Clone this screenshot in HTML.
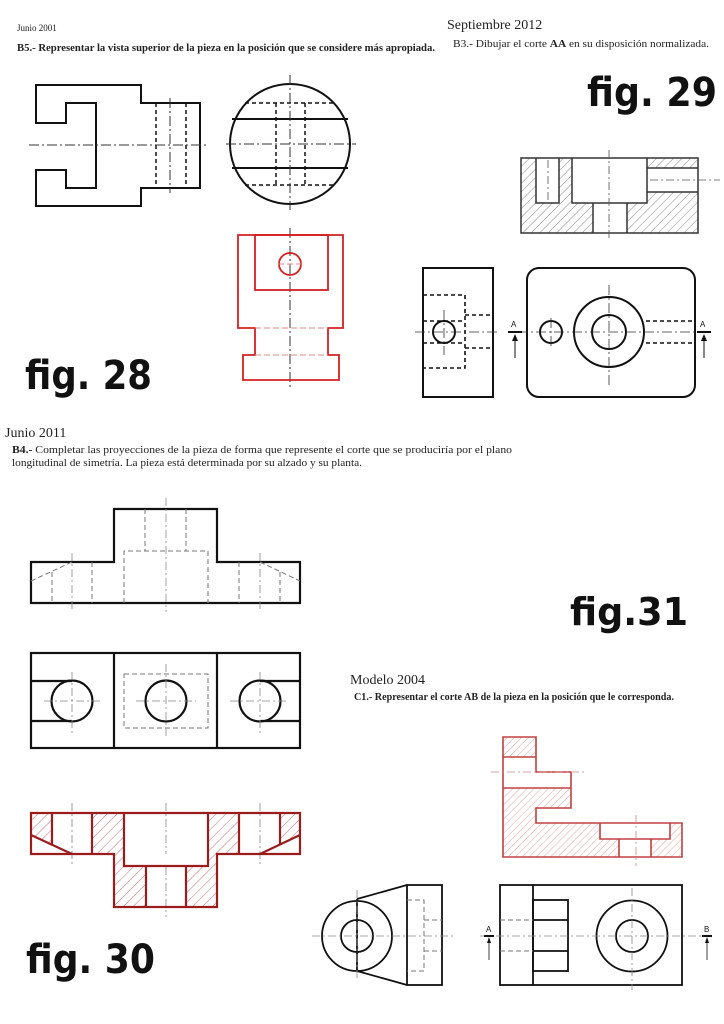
<!DOCTYPE html>
<html><head><meta charset="utf-8"><style>
html,body{margin:0;padding:0;background:#fff;}
svg{display:block;}
.t{font-family:"Liberation Serif",serif;fill:#222;}
.f{font-family:"DejaVu Sans","Liberation Sans",sans-serif;font-weight:bold;fill:#111;}
</style></head><body>
<svg width="724" height="1024" viewBox="0 0 724 1024" xmlns="http://www.w3.org/2000/svg">
<defs>
<pattern id="hg" width="6" height="6" patternUnits="userSpaceOnUse" patternTransform="rotate(45)">
<line x1="0" y1="0" x2="0" y2="6" stroke="#555" stroke-width="0.7"/></pattern>
<pattern id="hr" width="7" height="7" patternUnits="userSpaceOnUse" patternTransform="rotate(45)">
<line x1="0" y1="0" x2="0" y2="7" stroke="#a33" stroke-width="0.7"/></pattern>
<pattern id="hr2" width="5" height="5" patternUnits="userSpaceOnUse" patternTransform="rotate(45)">
<line x1="0" y1="0" x2="0" y2="5" stroke="#c66" stroke-width="0.6"/></pattern>
</defs>
<rect width="724" height="1024" fill="#fff"/>

<!-- texts -->
<text class="t" x="17" y="31" font-size="9">Junio 2001</text>
<text class="t" x="17" y="51" font-size="11" font-weight="bold" textLength="418" lengthAdjust="spacingAndGlyphs">B5.- Representar la vista superior de la pieza en la posición que se considere más apropiada.</text>
<text class="t" x="447" y="29" font-size="14">Septiembre 2012</text>
<text class="t" x="453" y="47" font-size="11" textLength="256" lengthAdjust="spacingAndGlyphs"><tspan>B3.- Dibujar el corte </tspan><tspan font-weight="bold">AA</tspan><tspan> en su disposición normalizada.</tspan></text>
<text class="f" x="587" y="106" font-size="40" textLength="130" lengthAdjust="spacingAndGlyphs">fig. 29</text>
<text class="f" x="25" y="389" font-size="40" textLength="127" lengthAdjust="spacingAndGlyphs">fig. 28</text>
<text class="t" x="5" y="437" font-size="14">Junio 2011</text>
<text class="t" x="12" y="453" font-size="11" textLength="500" lengthAdjust="spacingAndGlyphs"><tspan font-weight="bold">B4.-</tspan> Completar las proyecciones de la pieza de forma que represente el corte que se produciría por el plano</text>
<text class="t" x="12" y="466" font-size="11" textLength="350" lengthAdjust="spacingAndGlyphs">longitudinal de simetría. La pieza está determinada por su alzado y su planta.</text>
<text class="f" x="570" y="625" font-size="38" textLength="118" lengthAdjust="spacingAndGlyphs">fig.31</text>
<text class="t" x="350" y="684" font-size="14">Modelo 2004</text>
<text class="t" x="354" y="700" font-size="11" font-weight="bold" textLength="320" lengthAdjust="spacingAndGlyphs">C1.- Representar el corte AB de la pieza en la posición que le corresponda.</text>
<text class="f" x="26" y="973" font-size="40" textLength="129" lengthAdjust="spacingAndGlyphs">fig. 30</text>

<!-- FIG 28 -->
<g fill="none" stroke="#111" stroke-width="2">
<path d="M36,85 H141 V103 H200 V188 H141 V206 H36 V170 H66 V188 H96 V103 H66 V123 H36 Z"/>
<circle cx="290" cy="144" r="60"/>
<line x1="232" y1="119" x2="348" y2="119"/>
<line x1="232" y1="168" x2="348" y2="168"/>
</g>
<g fill="none" stroke="#111" stroke-width="1.5" stroke-dasharray="4,3">
<line x1="156" y1="103" x2="156" y2="188"/><line x1="186" y1="103" x2="186" y2="188"/>
<line x1="245" y1="103" x2="335" y2="103"/><line x1="245" y1="185" x2="335" y2="185"/>
<line x1="276" y1="103" x2="276" y2="185"/><line x1="305" y1="103" x2="305" y2="185"/>
</g>
<g fill="none" stroke="#333" stroke-width="1" stroke-dasharray="10,3,2,3">
<line x1="29" y1="145" x2="207" y2="145"/><line x1="170" y1="98" x2="170" y2="193"/>
<line x1="226" y1="144" x2="356" y2="144"/><line x1="290" y1="75" x2="290" y2="210"/>
<line x1="290" y1="228" x2="290" y2="388"/>
</g>
<g fill="none" stroke="#d42020" stroke-width="1.8">
<path d="M238,235 H343 V328 H328 V355 H339 V380 H243 V355 H255 V328 H238 Z"/>
<rect x="255" y="235" width="73" height="55"/>
<circle cx="290" cy="264" r="11"/>
</g>
<g stroke="#d88" stroke-width="1" stroke-dasharray="6,3"><line x1="255" y1="328" x2="328" y2="328"/><line x1="255" y1="355" x2="328" y2="355"/><line x1="278" y1="264" x2="302" y2="264"/></g>

<!-- FIG 29 section -->
<rect x="521" y="158" width="177" height="75" fill="url(#hg)"/>
<g fill="#fff"><rect x="536" y="158" width="23" height="45"/><rect x="572" y="158" width="75" height="45"/><rect x="647" y="168" width="51" height="24"/><rect x="593" y="203" width="34" height="30"/></g>
<g fill="none" stroke="#333" stroke-width="1.5">
<rect x="521" y="158" width="177" height="75"/>
<path d="M536,158 V203 H559 V158"/><path d="M572,158 V203 H647 V158"/>
<path d="M647,168 H698 M647,192 H698"/><path d="M593,203 V233 M627,203 V233"/>
</g>
<g stroke="#555" stroke-width="0.8" stroke-dasharray="8,3,2,3"><line x1="609" y1="150" x2="609" y2="240"/><line x1="548" y1="160" x2="548" y2="200"/><line x1="650" y1="180" x2="720" y2="180"/></g>

<g fill="none" stroke="#111" stroke-width="2">
<rect x="423" y="268" width="70" height="129"/>
<circle cx="444" cy="332" r="11"/>
<rect x="527" y="268" width="168" height="129" rx="12"/>
<circle cx="551" cy="332" r="11"/>
<circle cx="609" cy="332" r="35"/>
<circle cx="609" cy="332" r="17"/>
</g>
<g fill="none" stroke="#111" stroke-width="1.6" stroke-dasharray="4,3">
<path d="M423,295 H465 V368 H423"/><path d="M465,315 H493 M465,348 H493"/>
<path d="M423,321 H465 M423,343 H465"/>
<path d="M646,321 H695 M646,343 H695"/>
</g>
<g stroke="#333" stroke-width="0.8" stroke-dasharray="10,3,2,3"><line x1="415" y1="332" x2="500" y2="332"/><line x1="444" y1="310" x2="444" y2="355"/><line x1="518" y1="332" x2="708" y2="332"/><line x1="609" y1="285" x2="609" y2="385"/><line x1="551" y1="318" x2="551" y2="346"/></g>
<g stroke="#111" stroke-width="2"><line x1="508" y1="332" x2="522" y2="332"/><line x1="697" y1="332" x2="711" y2="332"/></g>
<g stroke="#111" stroke-width="1"><line x1="515" y1="335" x2="515" y2="358"/><line x1="704" y1="335" x2="704" y2="358"/></g>
<path d="M515,334 l-3,7 h6 z M704,334 l-3,7 h6 z" fill="#111"/>
<text x="511" y="327" font-family="Liberation Sans,sans-serif" font-size="8" fill="#111">A</text>
<text x="700" y="327" font-family="Liberation Sans,sans-serif" font-size="8" fill="#111">A</text>

<!-- FIG 31 elevation -->
<g fill="none" stroke="#111" stroke-width="2.2">
<path d="M31,562 H114 V509 H217 V562 H300 V603 H31 Z"/>
<rect x="31" y="653" width="269" height="95"/>
<line x1="114" y1="653" x2="114" y2="748"/><line x1="217" y1="653" x2="217" y2="748"/>
<circle cx="72" cy="701" r="20.5"/><circle cx="166" cy="701" r="20.5"/><circle cx="260" cy="701" r="20.5"/>
<path d="M31,681 H72 M31,721 H72 M260,681 H300 M260,721 H300"/>
</g>
<g fill="none" stroke="#777" stroke-width="1" stroke-dasharray="5,3">
<path d="M145,509 V551 M186,509 V551 M124,603 V551 H208 V603"/>
<path d="M52,572 V603 M92,562 V603 M239,562 V603 M280,572 V603"/>
<path d="M31,581 L72,562 M260,562 L300,581"/>
<rect x="124" y="674" width="84" height="54"/>
</g>
<g stroke="#888" stroke-width="0.8" stroke-dasharray="8,3,2,3">
<line x1="72" y1="553" x2="72" y2="612"/><line x1="166" y1="498" x2="166" y2="612"/><line x1="260" y1="553" x2="260" y2="612"/>
<line x1="72" y1="672" x2="72" y2="736"/><line x1="166" y1="664" x2="166" y2="738"/><line x1="260" y1="672" x2="260" y2="736"/>
<line x1="44" y1="701" x2="101" y2="701"/><line x1="136" y1="701" x2="196" y2="701"/><line x1="230" y1="701" x2="288" y2="701"/>
<line x1="72" y1="803" x2="72" y2="864"/><line x1="166" y1="803" x2="166" y2="917"/><line x1="260" y1="803" x2="260" y2="864"/>
</g>

<!-- FIG 30 red section -->
<g fill="url(#hr)">
<polygon points="31,813 52,813 52,845 31,835"/>
<rect x="92" y="813" width="32" height="41"/>
<rect x="208" y="813" width="31" height="41"/>
<polygon points="280,813 300,813 300,835 280,845"/>
<rect x="114" y="854" width="32" height="53"/>
<rect x="186" y="854" width="31" height="53"/>
</g>
<rect x="124" y="854" width="84" height="12" fill="#fff"/>
<g fill="none" stroke="#9b1c1c" stroke-width="2.2">
<path d="M31,813 H300 V854 H217 V907 H114 V854 H31 Z"/>
<path d="M52,813 V845 M92,813 V854 M124,813 V866 H208 V813 M239,813 V854 M280,813 V845"/>
<path d="M146,866 V907 M186,866 V907"/>
<path d="M31,835 L72,854 M300,835 L260,854"/>
</g>

<!-- C1 red section -->
<g fill="url(#hr2)">
<rect x="503" y="737" width="33" height="20"/>
<rect x="503" y="788" width="68" height="20"/>
<rect x="503" y="808" width="33" height="15"/>
<path d="M503,823 H682 V857 H651 V839 H670 V823 H600 V839 H619 V857 H503 Z"/>
</g>
<g fill="none" stroke="#c04040" stroke-width="1.6">
<path d="M503,737 H536 V772 H571 V808 H536 V823 H682 V857 H503 Z"/>
<path d="M503,757 H536 M503,788 H571"/>
<path d="M600,823 V839 H670 V823 M619,839 V857 M651,839 V857"/>
</g>
<g stroke="#c88" stroke-width="0.8" stroke-dasharray="8,3,2,3"><line x1="491" y1="772" x2="584" y2="772"/><line x1="636" y1="815" x2="636" y2="866"/></g>

<!-- C1 views -->
<g fill="none" stroke="#111" stroke-width="1.8">
<circle cx="357" cy="936" r="35"/><circle cx="357" cy="936" r="16"/>
<line x1="357" y1="899" x2="357" y2="971"/>
<path d="M357,899 L407,885 M357,971 L407,985"/>
<rect x="407" y="885" width="35" height="100"/>
<rect x="500" y="885" width="182" height="100"/>
<line x1="533" y1="885" x2="533" y2="985"/>
<rect x="533" y="900" width="35" height="71"/>
<path d="M533,920 H568 M533,951 H568"/>
<circle cx="632" cy="936" r="35.5"/><circle cx="632" cy="936" r="16"/>
</g>
<g fill="none" stroke="#777" stroke-width="1" stroke-dasharray="5,3">
<path d="M407,900 H424 V971 H407 M424,920 H442 M424,951 H442"/>
<path d="M500,920 H533 M500,951 H533"/>
</g>
<g stroke="#888" stroke-width="0.8" stroke-dasharray="8,3,2,3">
<line x1="312" y1="936" x2="455" y2="936"/><line x1="357" y1="890" x2="357" y2="980"/>
<line x1="480" y1="936" x2="715" y2="936"/><line x1="632" y1="888" x2="632" y2="990"/>
</g>
<g stroke="#111"><line x1="484" y1="936" x2="494" y2="936" stroke-width="2"/><line x1="702" y1="936" x2="712" y2="936" stroke-width="2"/>
<line x1="489" y1="938" x2="489" y2="960" stroke-width="0.8"/><line x1="707" y1="938" x2="707" y2="960" stroke-width="0.8"/></g>
<path d="M489,937 l-2,6 h4 z M707,937 l-2,6 h4 z" fill="#111"/>
<text x="486" y="932" font-family="Liberation Sans,sans-serif" font-size="8" fill="#111">A</text>
<text x="704" y="932" font-family="Liberation Sans,sans-serif" font-size="8" fill="#111">B</text>
</svg>
</body></html>
